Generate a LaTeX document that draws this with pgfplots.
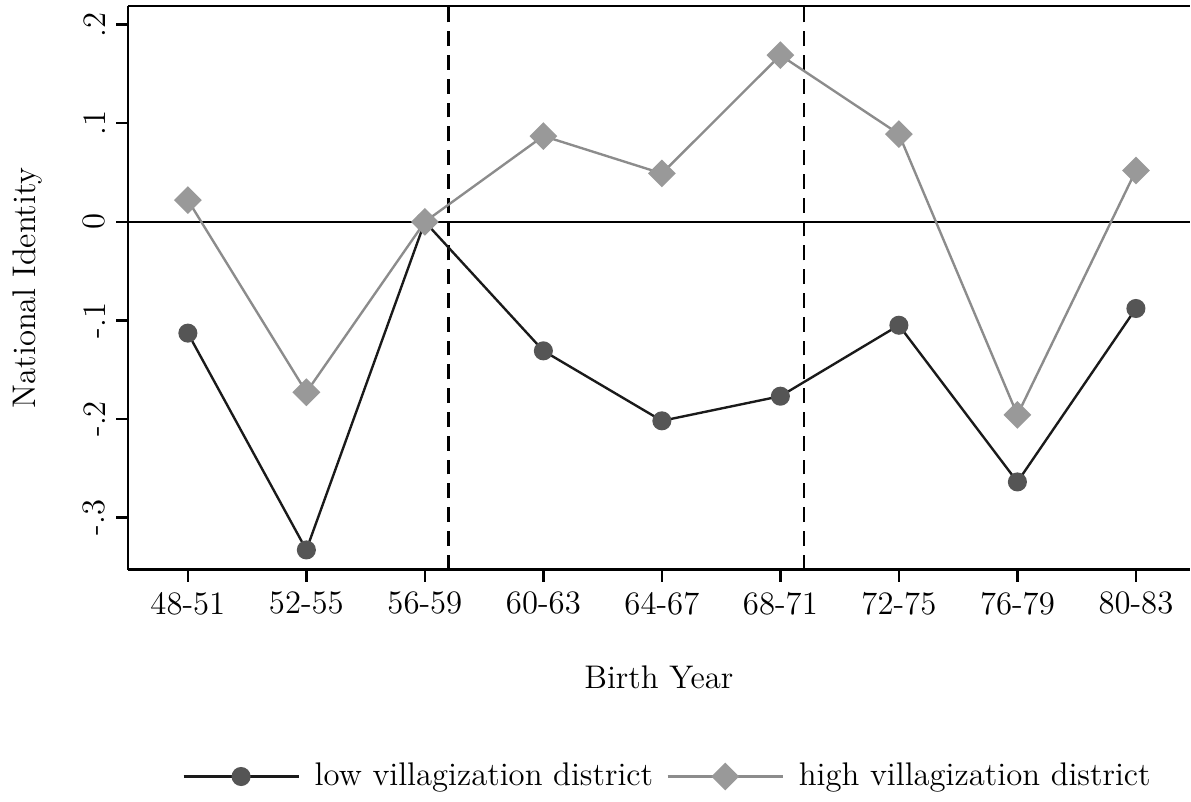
\documentclass[border=0pt]{standalone}
\usepackage{pgfplots}
\pgfplotsset{compat=1.18}
\definecolor{lowline}{RGB}{26,26,26}
\definecolor{lowmark}{RGB}{85,85,85}
\definecolor{highline}{RGB}{140,140,140}
\definecolor{highmark}{RGB}{153,153,153}
\begin{document}
\begin{tikzpicture}[font=\fontsize{11}{13}\selectfont]
\begin{axis}[
  name=ax,
  scale only axis,
  width=357pt, height=189.5pt,
  xmin=-0.506, xmax=8.455,
  ymin=-0.353, ymax=0.219,
  axis x line=bottom, axis y line=left,
  axis line style={-, line width=0.8pt, black},
  xtick={0,...,8},
  xticklabels={48-51,52-55,56-59,60-63,64-67,68-71,72-75,76-79,80-83},
  ytick={-0.3,-0.2,-0.1,0,0.1,0.2},
  yticklabels={-.3,-.2,-.1,0,.1,.2},
  yticklabel style={rotate=90, anchor=south},
  tick label style={font=\fontsize{11}{13}\selectfont},
  label style={font=\fontsize{11}{13}\selectfont},
  tick align=outside,
  major tick length=4pt,
  tick style={line width=0.8pt, black},
  xlabel={Birth Year},
  ylabel={National Identity},
  xlabel style={at={(axis description cs:0.5,-0.1916)}, anchor=center},
  ylabel style={at={(axis description cs:-0.095,0.5)}, anchor=center},
  legend style={at={(axis description cs:0.51,-0.367)}, anchor=center, draw=none, font=\fontsize{11}{13}\selectfont, legend columns=2,
    /tikz/every odd column/.append style={column sep=3pt},
    /tikz/every even column/.append style={column sep=2.5pt}},
  legend image code/.code={\draw[mark repeat=2,mark phase=2,#1] plot coordinates {(0cm,0cm) (0.68cm,0cm) (1.36cm,0cm)};},
  clip=false,
]
\draw[black, line width=0.6pt] (axis cs:-0.506,0) -- (axis cs:8.455,0);
\draw[black, line width=0.8pt, dash pattern=on 5pt off 3pt] (axis cs:2.2,-0.353) -- (axis cs:2.2,0.219);
\draw[black, line width=0.8pt, dash pattern=on 5pt off 3pt] (axis cs:5.2,-0.353) -- (axis cs:5.2,0.219);
\draw[black, line width=0.8pt] (rel axis cs:0,1) -- (rel axis cs:1,1);
\addplot[lowline, line width=0.8pt, mark=*, mark size=2.8pt, mark options={fill=lowmark, draw=lowmark}] coordinates {
(0,-0.113) (1,-0.333) (2,0) (3,-0.131) (4,-0.202) (5,-0.177) (6,-0.105) (7,-0.264) (8,-0.088)};
\addlegendentry{low villagization district}
\addplot[highline, line width=0.8pt, mark=square*, mark size=2.9pt, mark options={rotate=45, fill=highmark, draw=highmark}] coordinates {
(0,0.022) (1,-0.173) (2,0) (3,0.087) (4,0.049) (5,0.169) (6,0.089) (7,-0.196) (8,0.052)};
\addlegendentry{high villagization district}
\end{axis}
\path ([shift={(-43pt,-77pt)}]ax.south west) rectangle ([yshift=2pt]ax.north east);
\end{tikzpicture}
\end{document}
